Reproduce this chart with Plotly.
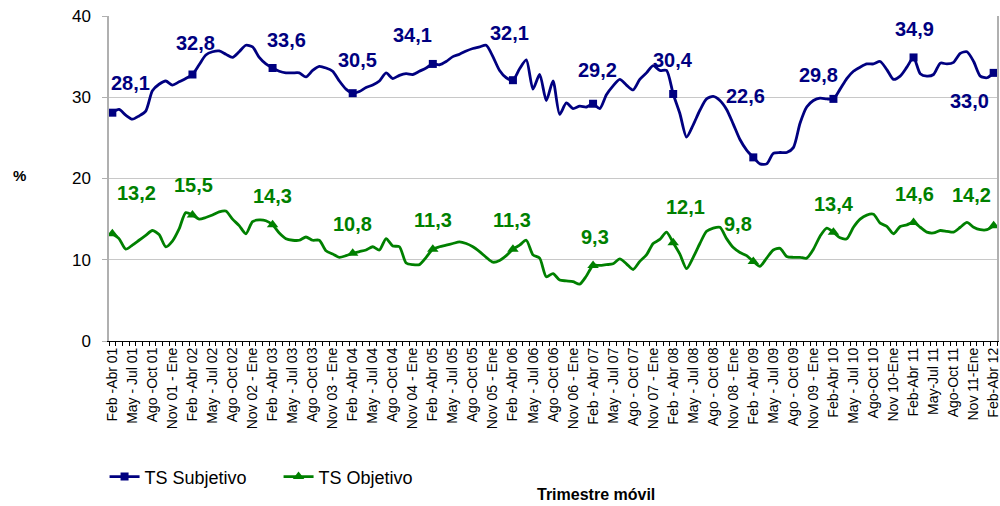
import plotly.graph_objects as go

# ---------------- data ----------------
tick_labels = [
    "Feb -Abr 01", "May - Jul 01", "Ago -Oct 01", "Nov 01 - Ene",
    "Feb -Abr 02", "May - Jul 02", "Ago -Oct 02", "Nov 02 - Ene",
    "Feb -Abr 03", "May - Jul 03", "Ago -Oct 03", "Nov 03 - Ene",
    "Feb -Abr 04", "May - Jul 04", "Ago -Oct 04", "Nov 04 - Ene",
    "Feb -Abr 05", "May - Jul 05", "Ago -Oct 05", "Nov 05 - Ene",
    "Feb -Abr 06", "May - Jul 06", "Ago -Oct 06", "Nov 06 - Ene",
    "Feb - Abr 07", "May - Jul 07", "Ago - Oct 07", "Nov 07 - Ene",
    "Feb - Abr 08", "May - Jul 08", "Ago - Oct 08", "Nov 08 - Ene",
    "Feb - Abr 09", "May - Jul 09", "Ago - Oct 09", "Nov 09 - Ene",
    "Feb-Abr 10", "May - Jul 10", "Ago-Oct 10", "Nov 10-Ene",
    "Feb-Abr 11", "May-Jul 11", "Ago-Oct 11", "Nov 11-Ene",
    "Feb-Abr 12",
]

meses = ["Ene", "Feb", "Mar", "Abr", "May", "Jun",
         "Jul", "Ago", "Sep", "Oct", "Nov", "Dic"]

ts_subjetivo = [
    28.1, 28.5, 27.8, 27.3, 27.7, 28.3, 30.8, 31.6, 32.0, 31.5, 31.9, 32.3,
    32.8, 34.0, 35.2, 35.6, 35.7, 35.3, 34.9, 35.6, 36.4, 36.2, 34.9, 34.1,
    33.6, 33.2, 33.0, 33.0, 33.0, 32.5, 33.3, 33.8, 33.6, 33.2, 32.0, 31.0,
    30.5, 30.7, 31.2, 31.5, 32.0, 33.0, 32.3, 32.7, 32.9, 32.8, 33.2, 33.6,
    34.1, 34.0, 34.4, 35.0, 35.3, 35.7, 36.0, 36.2, 36.4, 35.0, 33.3, 32.4,
    32.1, 33.5, 34.6, 31.0, 32.8, 29.6, 32.0, 27.9, 29.3, 28.6, 28.9, 28.8,
    29.2, 28.6, 30.3, 31.4, 32.2, 31.5, 30.9, 32.2, 33.0, 33.9, 33.3, 33.3,
    30.4, 28.0, 25.1, 26.6, 28.4, 29.8, 30.1, 29.6, 28.5, 26.7, 24.8, 23.5,
    22.6, 21.8, 21.8, 23.1, 23.2, 23.2, 23.8, 26.8, 28.8, 29.6, 29.9, 29.8,
    29.8, 31.0, 32.3, 33.2, 33.7, 34.1, 34.1, 34.4, 33.4, 32.2, 32.6, 33.7,
    34.9, 32.9, 32.6, 32.8, 34.2, 34.1, 34.3, 35.4, 35.6, 34.4, 32.6, 32.4,
    33.0,
]

ts_objetivo = [
    13.2, 12.6, 11.3, 11.8, 12.4, 13.0, 13.6, 13.1, 11.6, 12.3, 13.8, 15.8,
    15.5, 15.0, 15.2, 15.5, 15.9, 16.0, 15.0, 14.2, 13.2, 14.7, 14.9, 14.8,
    14.3, 13.3, 12.6, 12.4, 12.4, 12.8, 12.4, 12.4, 11.1, 10.7, 10.3, 10.5,
    10.8, 11.0, 11.2, 11.6, 11.2, 12.6, 11.7, 11.6, 9.6, 9.4, 9.4, 10.3,
    11.3, 11.6, 11.8, 12.0, 12.2, 12.0, 11.6, 11.0, 10.3, 9.7, 9.9, 10.5,
    11.3, 11.8, 12.4, 10.6, 10.2, 7.9, 8.3, 7.5, 7.4, 7.3, 7.0, 8.0,
    9.3, 9.3, 9.4, 9.5, 10.1, 9.5, 8.8, 9.8, 10.6, 12.0, 12.5, 13.4,
    12.1, 10.7, 8.9, 10.3, 12.0, 13.5, 13.9, 14.0, 12.6, 11.5, 10.9, 10.5,
    9.8, 9.2, 10.2, 11.2, 11.4, 10.4, 10.3, 10.3, 10.2, 11.3, 12.9, 13.9,
    13.4, 12.7, 12.6, 14.0, 15.0, 15.5, 15.6, 14.5, 14.1, 13.2, 14.1, 14.3,
    14.6, 14.0, 13.4, 13.3, 13.6, 13.5, 13.4, 14.0, 14.6, 14.0, 13.7, 13.7,
    14.2,
]

# category names (one per rolling quarter); labelled ones use the tick text
categorias = []
for i in range(len(ts_subjetivo)):
    if i % 3 == 0:
        categorias.append(tick_labels[i // 3])
    else:
        m = (1 + i) % 12
        yy = ((2001 * 12 + 1 + i) // 12) % 100
        categorias.append(f"{meses[m]}-{meses[(m + 2) % 12]} {yy:02d}")

# ---------------- styling ----------------
NAVY = "#000080"
GREEN = "#008000"
FONT = "Liberation Sans, Arial, sans-serif"

marker_idx = list(range(0, len(categorias), 12))

# label offsets in px (dx, dy) relative to the marked point
subj_offsets = [(18, 30), (3, 32), (14, 28), (5, 33), (-20, 29), (-3, 47),
                (4, 34), (0, 34), (-8, 61), (-15, 24), (1, 28), (-24, -28)]
obj_offsets = [(24, 41), (1, 30), (0, 29), (0, 29), (0, 29), (-1, 29),
               (2, 28), (12, 36), (-15, 37), (1, 28), (1, 28), (-22, 31)]

fig = go.Figure()

series = [
    ("TS Subjetivo", ts_subjetivo, NAVY, "square", 8, subj_offsets),
    ("TS Objetivo", ts_objetivo, GREEN, "triangle-up", 10, obj_offsets),
]

for name, vals, col, sym, msize, offs in series:
    fig.add_trace(go.Scatter(
        x=categorias, y=vals, mode="lines",
        line=dict(color=col, width=2.8, shape="spline", smoothing=0.7),
        showlegend=False, hoverinfo="x+y",
    ))
    fig.add_trace(go.Scatter(
        x=[categorias[i] for i in marker_idx],
        y=[vals[i] for i in marker_idx],
        mode="markers",
        marker=dict(symbol=sym, size=msize, color=col),
        showlegend=False, hoverinfo="x+y",
    ))
    # legend entry
    fig.add_trace(go.Scatter(
        x=[None], y=[None], mode="lines+markers", name=name,
        line=dict(color=col, width=2.8),
        marker=dict(symbol=sym, size=msize, color=col),
    ))
    for k, i in enumerate(marker_idx):
        dx, dy = offs[k]
        fig.add_annotation(
            x=categorias[i], y=vals[i], xref="x", yref="y",
            text=f"{vals[i]:.1f}".replace(".", ","),
            showarrow=False, xshift=dx, yshift=dy,
            font=dict(family=FONT, size=20, color=col, weight="bold"),
        )

tick_text = [categorias[i] if i % 3 == 0 else "" for i in range(len(categorias))]

fig.update_layout(
    width=1000, height=506,
    margin=dict(l=109, r=3, t=16, b=165, autoexpand=False),
    paper_bgcolor="white", plot_bgcolor="white",
    font=dict(family=FONT, color="black"),
    showlegend=True,
    legend=dict(
        orientation="h", x=-0.005, xanchor="left", y=-0.418, yanchor="middle",
        font=dict(family=FONT, size=18, color="black"),
        bgcolor="rgba(0,0,0,0)", entrywidth=129,
    ),
    xaxis=dict(
        type="category", categoryorder="array", categoryarray=categorias,
        tickmode="array", tickvals=categorias, ticktext=tick_text,
        tickson="boundaries", ticks="outside", ticklen=4, tickcolor="black",
        tickangle=-90, tickfont=dict(family=FONT, size=14, color="black"),
        showline=True, linecolor="black", linewidth=1,
        showgrid=False, zeroline=False,
        range=[-0.5, len(categorias) - 0.5],
    ),
    yaxis=dict(
        range=[0, 40], tickmode="array", tickvals=[0, 10, 20, 30, 40],
        ticks="outside", ticklen=5, tickcolor="#b0b0b0",
        ticklabelstandoff=8,
        tickfont=dict(family=FONT, size=17, color="black"),
        showline=True, linecolor="#b0b0b0", linewidth=1.5, mirror=True,
        showgrid=True, gridcolor="#c8c8c8", gridwidth=1,
        zeroline=False,
    ),
)

fig.add_annotation(
    text="%", xref="paper", yref="paper", x=-0.101, y=0.508,
    xanchor="center", yanchor="middle",
    showarrow=False, font=dict(family=FONT, size=15, color="black", weight="bold"),
)
fig.add_annotation(
    text="Trimestre móvil", xref="paper", yref="paper", x=0.548, y=-0.471,
    xanchor="center", yanchor="middle",
    showarrow=False, font=dict(family=FONT, size=16, color="black", weight="bold"),
)

fig.write_html(
    "out.html",
    config={"displayModeBar": False},
    post_script="document.body.style.margin='0';document.body.style.overflow='hidden';",
)
